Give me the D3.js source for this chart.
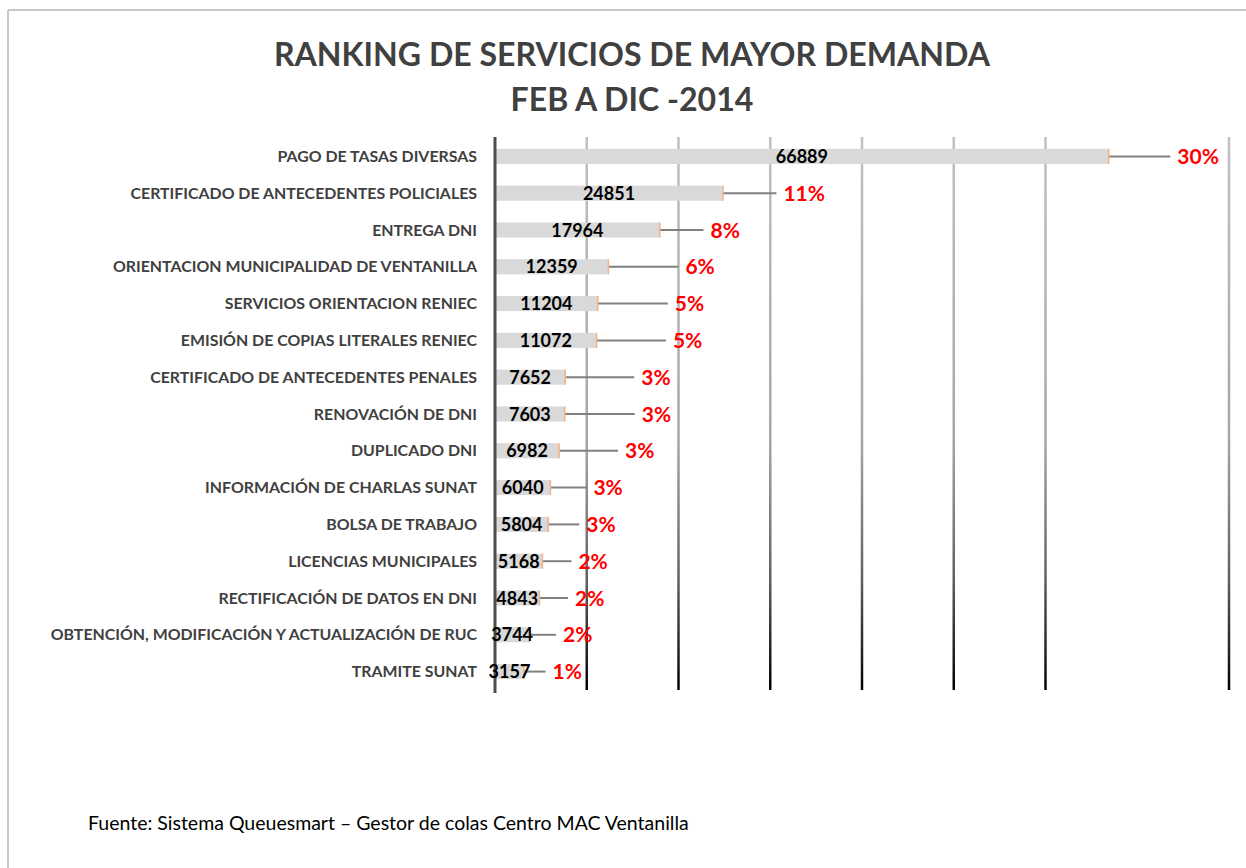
<!DOCTYPE html>
<html>
<head>
<meta charset="utf-8">
<script src="https://cdn.jsdelivr.net/npm/d3@7"></script>
<style>
  html, body { margin: 0; padding: 0; background: #fff; }
  svg { display: block; }
</style>
</head>
<body>
<svg id="chart" width="1246" height="868"></svg>
<script>
const categories = [
  "PAGO DE TASAS DIVERSAS",
  "CERTIFICADO DE ANTECEDENTES POLICIALES",
  "ENTREGA DNI",
  "ORIENTACION MUNICIPALIDAD DE VENTANILLA",
  "SERVICIOS ORIENTACION RENIEC",
  "EMISIÓN DE COPIAS LITERALES RENIEC",
  "CERTIFICADO DE ANTECEDENTES PENALES",
  "RENOVACIÓN DE DNI",
  "DUPLICADO DNI",
  "INFORMACIÓN DE CHARLAS SUNAT",
  "BOLSA DE TRABAJO",
  "LICENCIAS MUNICIPALES",
  "RECTIFICACIÓN DE DATOS EN DNI",
  "OBTENCIÓN, MODIFICACIÓN Y ACTUALIZACIÓN DE RUC",
  "TRAMITE SUNAT"
];
const values = [66889, 24851, 17964, 12359, 11204, 11072, 7652, 7603, 6982, 6040, 5804, 5168, 4843, 3744, 3157];
const percents = ["30%", "11%", "8%", "6%", "5%", "5%", "3%", "3%", "3%", "3%", "3%", "2%", "2%", "2%", "1%"];
const errorPlus = [6720, 5820, 4760, 7630, 7630, 7560, 7520, 7630, 6430, 3920, 3380, 3160, 3120, 2910, 2360];
const gridTicks = [10000, 20000, 30000, 40000, 50000, 60000, 80000];
const titleLines = ["RANKING DE SERVICIOS DE MAYOR DEMANDA", "FEB A DIC -2014"];
const sourceText = "Fuente: Sistema Queuesmart – Gestor de colas Centro MAC Ventanilla";

const svg = d3.select("#chart");
const font = "Lato, 'Open Sans', sans-serif";

// page frame
svg.append("line").attr("x1", 8).attr("x2", 1246).attr("y1", 10).attr("y2", 10)
  .attr("stroke", "#c8c8c8").attr("stroke-width", 2);
svg.append("line").attr("x1", 8).attr("x2", 8).attr("y1", 10).attr("y2", 868)
  .attr("stroke", "#c8c8c8").attr("stroke-width", 2);

const x = d3.scaleLinear().domain([0, 80000]).range([495, 1229]);
const y = d3.scaleBand().domain(categories).range([138, 690]).paddingInner(0.59).paddingOuter(0.295);
const plotTop = 137, plotBottom = 690;

// gradient for gridlines
const defs = svg.append("defs");
const grad = defs.append("linearGradient").attr("id", "gridGrad")
  .attr("gradientUnits", "userSpaceOnUse")
  .attr("x1", 0).attr("y1", plotTop).attr("x2", 0).attr("y2", plotBottom);
grad.append("stop").attr("offset", 0).attr("stop-color", "#c0c0c0");
grad.append("stop").attr("offset", 0.55).attr("stop-color", "#a6a6a6");
grad.append("stop").attr("offset", 0.8).attr("stop-color", "#606060");
grad.append("stop").attr("offset", 1).attr("stop-color", "#000000");

svg.append("g").selectAll("line").data(gridTicks).join("line")
  .attr("x1", d => x(d)).attr("x2", d => x(d))
  .attr("y1", plotTop).attr("y2", plotBottom)
  .attr("stroke", "url(#gridGrad)").attr("stroke-width", 2.5);

// title
svg.append("g").selectAll("text").data(titleLines).join("text")
  .attr("x", 632).attr("y", (d, i) => 66 + i * 45)
  .attr("text-anchor", "middle")
  .attr("font-family", font).attr("font-weight", "bold").attr("font-size", 32.1)
  .attr("fill", "#404040").text(d => d);

// bars
const rows = categories.map((c, i) => ({c, v: values[i], p: percents[i], e: errorPlus[i]}));
svg.append("g").selectAll("rect").data(rows).join("rect")
  .attr("x", x(0)).attr("y", d => y(d.c))
  .attr("width", d => x(d.v) - x(0)).attr("height", y.bandwidth())
  .attr("fill", "#d9d9d9");

// error lines
svg.append("g").selectAll("line").data(rows).join("line")
  .attr("x1", d => x(d.v)).attr("x2", d => x(d.v + d.e))
  .attr("y1", d => y(d.c) + y.bandwidth() / 2).attr("y2", d => y(d.c) + y.bandwidth() / 2)
  .attr("stroke", "#808080").attr("stroke-width", 2);
svg.append("g").selectAll("line").data(rows).join("line")
  .attr("x1", d => x(d.v)).attr("x2", d => x(d.v))
  .attr("y1", d => y(d.c)).attr("y2", d => y(d.c) + y.bandwidth())
  .attr("stroke", "#f4b183").attr("stroke-width", 1.5);

// axis line
svg.append("line").attr("x1", x(0)).attr("x2", x(0)).attr("y1", plotTop).attr("y2", plotBottom + 3)
  .attr("stroke", "#4d4d4d").attr("stroke-width", 3);

// category labels
svg.append("g").selectAll("text").data(rows).join("text")
  .attr("x", 477).attr("y", d => y(d.c) + y.bandwidth() / 2 + 5.5)
  .attr("text-anchor", "end")
  .attr("font-family", font).attr("font-weight", "bold").attr("font-size", 15.9)
  .attr("fill", "#404040").text(d => d.c);

// value labels
svg.append("g").selectAll("text").data(rows).join("text")
  .attr("x", d => (x(0) + x(d.v)) / 2).attr("y", d => y(d.c) + y.bandwidth() / 2 + 6.5)
  .attr("text-anchor", "middle")
  .attr("font-family", font).attr("font-weight", "bold").attr("font-size", 18)
  .attr("fill", "#000").text(d => d.v);

// percent labels
svg.append("g").selectAll("text").data(rows).join("text")
  .attr("x", d => x(d.v + d.e) + 7).attr("y", d => y(d.c) + y.bandwidth() / 2 + 7.5)
  .attr("font-family", font).attr("font-weight", "bold").attr("font-size", 21)
  .attr("fill", "#ff0000").text(d => d.p);

// source
svg.append("text").attr("x", 88).attr("y", 830)
  .attr("font-family", font).attr("font-size", 19.5).attr("fill", "#000").text(sourceText);
</script>
</body>
</html>
